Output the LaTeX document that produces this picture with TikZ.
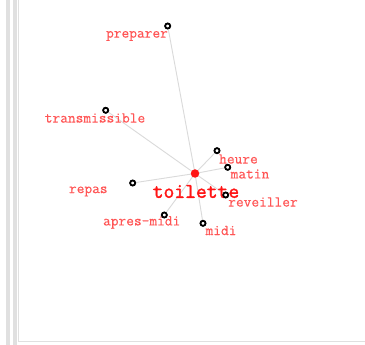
\documentclass[tikz,border=0pt]{standalone}
\usepackage{fontspec}
\newfontfamily\wordfont{Latin Modern Mono}[AutoFakeBold=0.4]
\newfontfamily\hubfont{Latin Modern Mono}[AutoFakeBold=1.6]
\definecolor{lbl}{RGB}{255,85,85}
\definecolor{hub}{RGB}{255,20,20}
\definecolor{edge}{RGB}{218,218,218}
\definecolor{frame}{RGB}{224,224,224}
\begin{document}
\begin{tikzpicture}[x=1pt,y=-1pt,
  word/.style={font=\wordfont\bfseries\fontsize{15}{16}\selectfont, text=lbl, inner sep=0pt},
  hubword/.style={font=\hubfont\bfseries\fontsize{21}{22}\selectfont, text=hub, inner sep=0pt},
  dot/.style={circle, draw=black, line width=1.7pt, fill=white, inner sep=0pt, minimum size=5pt},
  hubdot/.style={circle, fill=hub, inner sep=0pt, minimum size=8.5pt},
  link/.style={draw=edge, line width=0.9pt}]
\useasboundingbox (0,0) rectangle (365,345);
\fill[white] (0,0) rectangle (365,345);
% frame
\fill[frame] (6,0) rectangle (9.5,345);
\fill[frame] (13,0) rectangle (16.5,345);
\fill[frame] (18,0) rectangle (19.2,342.5);
\fill[frame] (18,341) rectangle (365,342.5);
% nodes
\coordinate (c) at (195,173.5);
\node[dot] (preparer) at (167.7,26) {};
\node[dot] (transmissible) at (105.7,110.3) {};
\node[dot] (heure) at (217,150.7) {};
\node[dot] (matin) at (227.7,167.3) {};
\node[dot] (reveiller) at (225.7,195) {};
\node[dot] (midi) at (203,223.3) {};
\node[dot] (apresmidi) at (164.3,215) {};
\node[dot] (repas) at (132.7,183) {};
% edges
\foreach \n in {preparer,transmissible,heure,matin,reveiller,midi,apresmidi,repas}
  \draw[link] (c) -- (\n);
% labels
\node[word] (lpreparer) at (137,36) {preparer};
\node[word] (ltransmissible) at (95,118) {transmissible};
\node[word] (lheure) at (238.5,159) {heure};
\node[word] (lmatin) at (250,174) {matin};
\node[word] (lreveiller) at (263,202) {reveiller};
\node[word] (lmidi) at (221,230.5) {midi};
\node[word] (lapresmidi) at (141.7,222.5) {apres-midi};
\node[word] (lrepas) at (88.3,191.5) {repas};
\node[hubword] (ltoilette) at (196,191.5) {toilette};
% dots on top
\foreach \n/\p in {preparer/{167.7,26},transmissible/{105.7,110.3},heure/{217,150.7},matin/{227.7,167.3},reveiller/{225.7,195},midi/{203,223.3},apresmidi/{164.3,215},repas/{132.7,183}}
  \node[dot] at (\p) {};
\node[hubdot] (toilette) at (c) {};
\end{tikzpicture}
\end{document}
